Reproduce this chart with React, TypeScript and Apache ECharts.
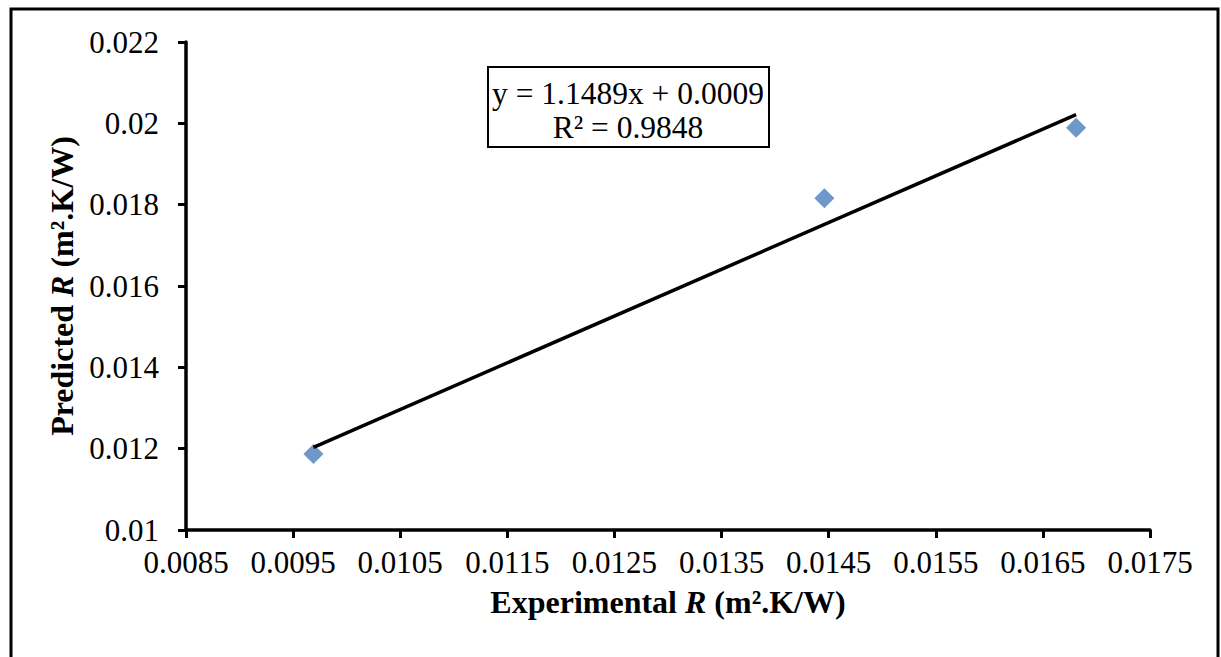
import React, { useEffect, useRef } from "react";
import * as echarts from "echarts";

// Data
const experimentalR = [0.00969, 0.01446, 0.01681];
const predictedR = [0.01187, 0.01816, 0.01989];
const trendSlope = 1.1489;
const trendIntercept = 0.0009;
const xTickValues = [0.0085, 0.0095, 0.0105, 0.0115, 0.0125, 0.0135, 0.0145, 0.0155, 0.0165, 0.0175];
const yMin = 0.01;
const yMax = 0.022;
const yStep = 0.002;
const equationLines = ["y = 1.1489x + 0.0009", "R² = 0.9848"];

const FONT = "'Liberation Serif', 'Times New Roman', serif";

export default function App() {
  const ref = useRef<HTMLDivElement>(null);
  useEffect(() => {
    if (!ref.current) return;
    const chart = echarts.init(ref.current, null, { renderer: "svg" });
    const xs = experimentalR.slice().sort((a, b) => a - b);
    const x0 = xs[0];
    const x1 = xs[xs.length - 1];
    const trend = [
      [x0, trendSlope * x0 + trendIntercept],
      [x1, trendSlope * x1 + trendIntercept],
    ];
    const fmt = (v: number) => String(Number(v.toFixed(5)));
    const titleRich = {
      b: { fontFamily: FONT, fontSize: 32, fontWeight: "bold", color: "#000" },
      i: { fontFamily: FONT, fontSize: 32, fontWeight: "bold", fontStyle: "italic", color: "#000" },
    };
    chart.setOption({
      animation: false,
      backgroundColor: "#ffffff",
      grid: { left: 186, right: 71, top: 42, bottom: 127, containLabel: false },
      xAxis: {
        type: "value",
        min: xTickValues[0],
        max: xTickValues[xTickValues.length - 1],
        name: "{b|Experimental }{i|R}{b| (m².K/W)}",
        nameLocation: "middle",
        nameGap: 56,
        nameTextStyle: { rich: titleRich },
        axisLine: { show: true, onZero: false, lineStyle: { color: "#000", width: 3.5 } },
        axisTick: { show: true, inside: false, length: 8, lineStyle: { color: "#000", width: 3 }, customValues: xTickValues },
        axisLabel: {
          customValues: xTickValues,
          margin: 17,
          fontFamily: FONT,
          fontSize: 31,
          color: "#000",
          formatter: (v: number) => fmt(v),
        },
        splitLine: { show: false },
      },
      yAxis: {
        type: "value",
        min: yMin,
        max: yMax,
        interval: yStep,
        name: "{b|Predicted }{i|R}{b| (m².K/W)}",
        nameLocation: "middle",
        nameGap: 106,
        nameTextStyle: { rich: titleRich },
        axisLine: { show: true, onZero: false, lineStyle: { color: "#000", width: 3.5 } },
        axisTick: { show: true, inside: false, length: 8, lineStyle: { color: "#000", width: 3 } },
        axisLabel: {
          margin: 27,
          fontFamily: FONT,
          fontSize: 31,
          color: "#000",
          formatter: (v: number) => fmt(v),
        },
        splitLine: { show: false },
      },
      series: [
        {
          type: "scatter",
          data: experimentalR.map((x, i) => [x, predictedR[i]]),
          symbol: "diamond",
          symbolSize: 20,
          itemStyle: { color: "#4A7EBB" },
          z: 2,
        },
        {
          type: "line",
          data: trend,
          showSymbol: false,
          symbol: "none",
          lineStyle: { color: "#000", width: 3.5 },
          z: 3,
        },
      ],
      graphic: [
        {
          type: "rect",
          shape: { x: 11, y: 9, width: 1207, height: 720 },
          style: { fill: "none", stroke: "#000", lineWidth: 3 },
          silent: true,
          z: 100,
        },
        {
          type: "rect",
          shape: { x: 488, y: 67, width: 281, height: 80 },
          style: { fill: "#fff", stroke: "#000", lineWidth: 2 },
          z: 100,
        },
        {
          type: "text",
          x: 628,
          y: 93,
          style: {
            text: equationLines[0],
            fontFamily: FONT,
            fontSize: 31.5,
            fill: "#000",
            align: "center",
            verticalAlign: "middle",
          },
          z: 101,
        },
        {
          type: "text",
          x: 628,
          y: 127,
          style: {
            text: equationLines[1],
            fontFamily: FONT,
            fontSize: 31.5,
            fill: "#000",
            align: "center",
            verticalAlign: "middle",
          },
          z: 101,
        },
      ],
    });
    return () => chart.dispose();
  }, []);
  return (
    <div
      ref={ref}
      style={{ position: "absolute", left: 0, top: 0, width: 1221, height: 657, background: "#fff" }}
    />
  );
}
